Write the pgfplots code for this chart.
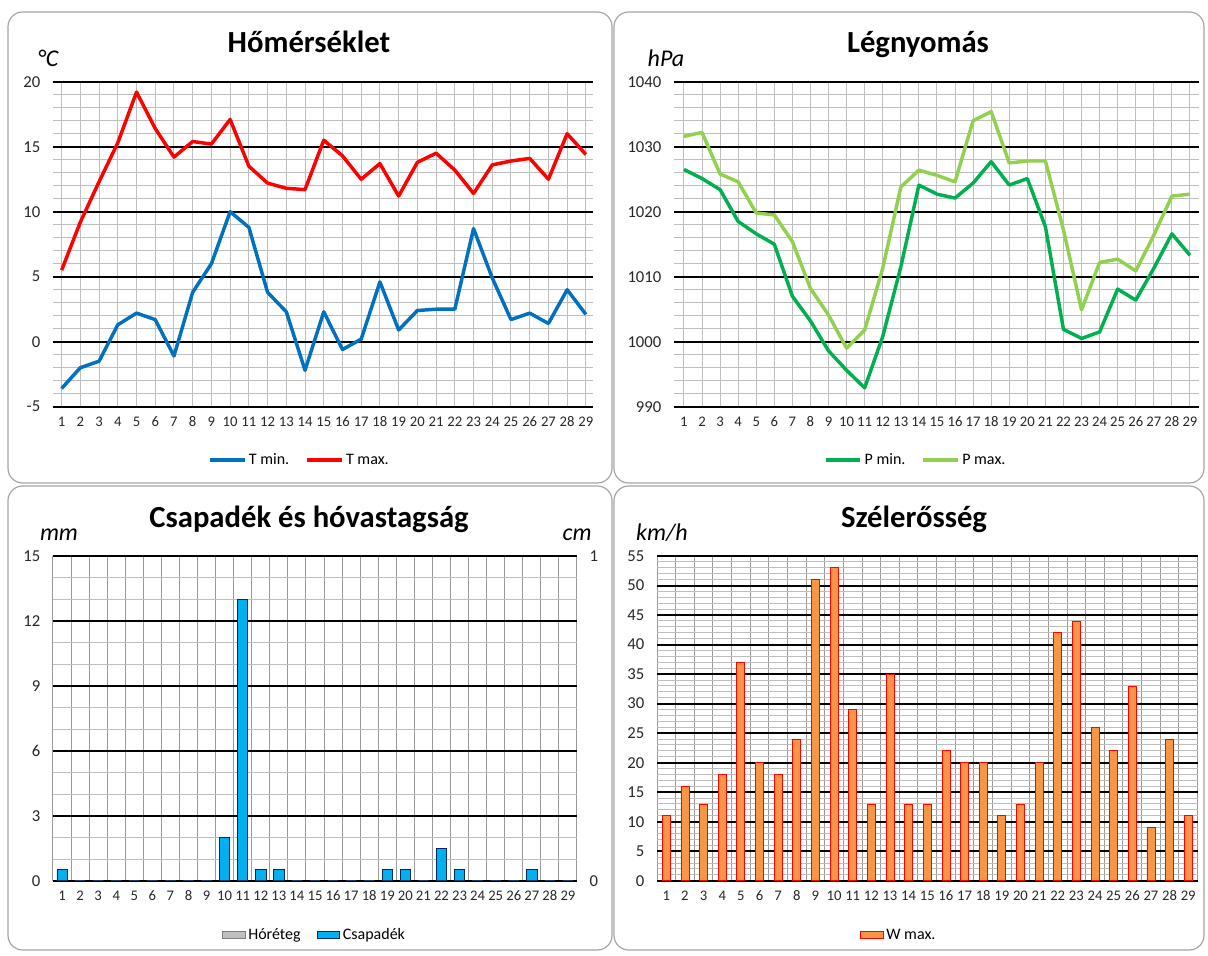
\documentclass[border=0pt]{standalone}
\usepackage{pgfplots}
\pgfplotsset{compat=1.18}
\usepackage{pgfplotstable}
\usepackage{fontspec}
\setmainfont{Carlito}

\definecolor{tminc}{RGB}{0,112,192}
\definecolor{tmaxc}{RGB}{255,0,0}
\definecolor{pminc}{RGB}{0,176,80}
\definecolor{pmaxc}{RGB}{146,208,80}
\definecolor{precc}{RGB}{0,176,240}
\definecolor{precb}{RGB}{0,40,100}
\definecolor{windc}{RGB}{247,150,70}
\definecolor{windb}{RGB}{255,0,0}
\definecolor{snowc}{RGB}{191,191,191}
\definecolor{gridg}{RGB}{190,190,190}
\definecolor{frameg}{RGB}{165,165,165}

\pgfplotstableread{
day tmin tmax pmin pmax prec wind snow
1 -3.6 5.5 1026.5 1031.6 0.5 11 0
2 -2.0 9.2 1025.1 1032.2 0 16 0
3 -1.5 12.3 1023.4 1025.8 0 13 0
4 1.3 15.3 1018.5 1024.6 0 18 0
5 2.2 19.2 1016.6 1019.8 0 37 0
6 1.7 16.4 1015.0 1019.5 0 20 0
7 -1.1 14.2 1007.0 1015.4 0 18 0
8 3.8 15.4 1003.2 1008.2 0 24 0
9 6.0 15.2 998.6 1004.1 0 51 0
10 10.0 17.1 995.6 999.0 2 53 0
11 8.8 13.5 992.9 1001.8 13 29 0
12 3.8 12.2 1000.8 1011.3 0.5 13 0
13 2.3 11.8 1011.5 1023.8 0.5 35 0
14 -2.2 11.7 1024.1 1026.4 0 13 0
15 2.3 15.5 1022.7 1025.6 0 13 0
16 -0.6 14.3 1022.1 1024.6 0 22 0
17 0.2 12.5 1024.4 1034.0 0 20 0
18 4.6 13.7 1027.7 1035.4 0 20 0
19 0.9 11.2 1024.1 1027.5 0.5 11 0
20 2.4 13.8 1025.1 1027.8 0.5 13 0
21 2.5 14.5 1017.7 1027.8 0 20 0
22 2.5 13.2 1001.9 1017.2 1.5 42 0
23 8.7 11.4 1000.5 1004.9 0.5 44 0
24 4.9 13.6 1001.5 1012.2 0 26 0
25 1.7 13.9 1008.1 1012.7 0 22 0
26 2.2 14.1 1006.4 1010.9 0 33 0
27 1.4 12.5 1011.3 1016.4 0.5 9 0
28 4.0 16.0 1016.6 1022.4 0 24 0
29 2.1 14.4 1013.3 1022.7 0 11 0
}\data

\pgfplotsset{
  base/.style={
    scale only axis,
    axis line style={draw=none},
    major tick length=0pt, minor tick length=0pt,
    tick style={draw=none},
    ymajorgrids, yminorgrids,
    major y grid style={black, line width=1.5pt},
    minor y grid style={gridg, line width=0.75pt},
    yticklabel style={font=\fontsize{12.5}{13}\selectfont, text=black!85},
    xticklabel style={font=\fontsize{11}{12}\selectfont, text=black!85},
    /pgf/number format/assume math mode=true,
    /pgf/number format/1000 sep={},
    xticklabel shift=4pt, yticklabel shift=6pt,
    xtick={1,...,29},
    clip=false,
    legend cell align=left,
    legend style={draw=none, fill=none, font=\fontsize{12}{13}\selectfont,
      legend columns=2, anchor=center,
      /tikz/every even column/.append style={column sep=10pt}},
  },
  linechart/.style={
    base,
    xmajorgrids,
    major x grid style={gridg, line width=0.75pt},
    legend image code/.code={\draw[##1] (0pt,0pt) -- (26pt,0pt);},
  },
  barchart/.style={
    base,
    xmin=0.5, xmax=29.5,
    minor xtick={0.5,1.5,...,29.5},
    xminorgrids,
    minor x grid style={black!40, line width=0.75pt},
  },
}

\begin{document}
\begin{tikzpicture}
\useasboundingbox (0,0) rectangle (906pt,-717pt);

\begin{scope}[x=0.75pt, y=-0.75pt]
  \draw[frameg, line width=0.9pt, rounded corners=11pt] (8,12) rectangle (612,483);
  \draw[frameg, line width=0.9pt, rounded corners=11pt] (614,12) rectangle (1204,483);
  \draw[frameg, line width=0.9pt, rounded corners=11pt] (8,486) rectangle (612,950);
  \draw[frameg, line width=0.9pt, rounded corners=11pt] (614,486) rectangle (1204,950);
  \node[anchor=base, font=\fontsize{23}{25}\selectfont\bfseries] at (309,53) {Hőmérséklet};
  \node[anchor=base, font=\fontsize{23}{25}\selectfont\bfseries] at (918,53) {Légnyomás};
  \node[anchor=base, font=\fontsize{23}{25}\selectfont\bfseries] at (309,527) {Csapadék és hóvastagság};
  \node[anchor=base, font=\fontsize{23}{25}\selectfont\bfseries] at (914,527) {Szélerősség};
  \node[anchor=base, font=\fontsize{18}{20}\selectfont\itshape] at (48,67) {°C};
  \node[anchor=base, font=\fontsize{18}{20}\selectfont\itshape] at (666,67) {hPa};
  \node[anchor=base, font=\fontsize{18}{20}\selectfont\itshape] at (59,540) {mm};
  \node[anchor=base, font=\fontsize{18}{20}\selectfont\itshape] at (577,540) {cm};
  \node[anchor=base, font=\fontsize{18}{20}\selectfont\itshape] at (662,540) {km/h};
\end{scope}

% Temperature
\begin{axis}[linechart,
  at={(39.75pt,-305.03pt)}, anchor=south west,
  width=405pt, height=243.75pt,
  xmin=0.54, xmax=29.38, ymin=-5, ymax=20,
  ytick={-5,0,...,20}, minor y tick num=4,
  legend style={at={(0.457,-0.164)}},
]
\addplot[tminc, line width=2.6pt, line join=round] table[x=day, y=tmin] {\data};
\addlegendentry{T min.}
\addplot[tmaxc, line width=2.6pt, line join=round] table[x=day, y=tmax] {\data};
\addlegendentry{T max.}
\end{axis}

% Pressure
\begin{axis}[linechart,
  at={(505.5pt,-305.03pt)}, anchor=south west,
  width=393.75pt, height=243.75pt,
  xmin=0.45, xmax=29.5, ymin=990, ymax=1040,
  ytick={990,1000,...,1040}, minor y tick num=4,
  legend style={at={(0.461,-0.164)}},
]
\addplot[pminc, line width=2.6pt, line join=round] table[x=day, y=pmin] {\data};
\addlegendentry{P min.}
\addplot[pmaxc, line width=2.6pt, line join=round] table[x=day, y=pmax] {\data};
\addlegendentry{P max.}
\end{axis}

% Precipitation
\begin{axis}[barchart,
  at={(39.75pt,-660.53pt)}, anchor=south west,
  width=393pt, height=243.5pt,
  ymin=0, ymax=15,
  ytick={0,3,...,15}, minor y tick num=2,
  legend style={at={(0.5,-0.167)}},
]
\addlegendimage{area legend, fill=snowc, draw=black!50}
\addlegendentry{Hóréteg}
\addplot[ybar, bar width=7.7pt, fill=precc, draw=precb, line width=0.6pt, area legend] table[x=day, y=prec] {\data};
\addlegendentry{Csapadék}
\end{axis}
\begin{axis}[
  at={(39.75pt,-660.53pt)}, anchor=south west,
  scale only axis, width=393pt, height=243.5pt,
  xmin=0.5, xmax=29.5, ymin=0, ymax=1,
  axis y line*=right, axis x line=none,
  axis line style={draw=none},
  major tick length=0pt, tick style={draw=none},
  ytick={0,1},
  yticklabel shift=6pt,
  ticklabel style={font=\fontsize{12.5}{13}\selectfont, text=black!85},
  /pgf/number format/assume math mode=true,
]
\addplot[ybar, bar width=7.7pt, fill=snowc, draw=none] table[x=day, y=snow] {\data};
\end{axis}

% Wind
\begin{axis}[barchart,
  at={(492.75pt,-660.53pt)}, anchor=south west,
  width=405.4pt, height=243.5pt,
  ymin=0, ymax=55,
  ytick={0,5,...,55}, minor y tick num=4,
  legend style={at={(0.448,-0.167)}},
]
\addplot[ybar, bar width=6pt, fill=windc, draw=windb, line width=0.6pt, area legend] table[x=day, y=wind] {\data};
\addlegendentry{W max.}
\end{axis}
\end{tikzpicture}
\end{document}
